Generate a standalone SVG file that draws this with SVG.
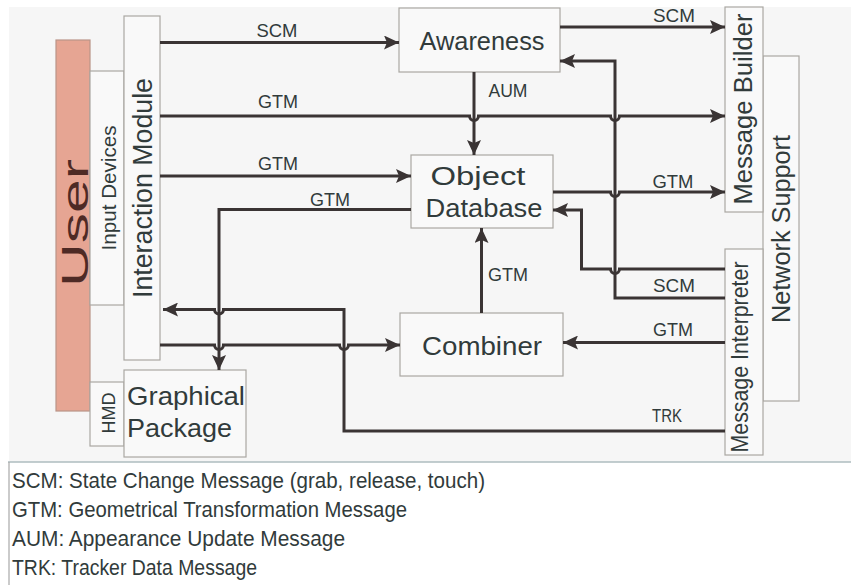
<svg xmlns="http://www.w3.org/2000/svg" width="851" height="585" viewBox="0 0 851 585">
<defs>
<style>
text{font-family:"Liberation Sans",Arial,sans-serif;fill:#313b3b}
.box{fill:#f9f9f9;stroke:#aaa7a2;stroke-width:1.2}
.user{fill:#e6a593;stroke:#b99488;stroke-width:1.2}
.c{fill:none;stroke:#3a3434;stroke-width:3}
.a{marker-end:url(#arr)}
.lbl{font-size:19px}
.bt{font-size:25.5px}
</style>
<marker id="arr" viewBox="0 0 15 14" refX="15" refY="7" markerWidth="15" markerHeight="14" markerUnits="userSpaceOnUse" orient="auto">
<path d="M0,0 L15,7 L0,14 L3,7 z" fill="#3a3434"/>
</marker>
</defs>
<rect x="0" y="0" width="851" height="585" fill="#ffffff"/>
<rect x="9" y="7" width="842" height="455" fill="#f6f6f6"/>
<line x1="8" y1="462" x2="851" y2="462" stroke="#aebcbf" stroke-width="1.5"/>
<line x1="9" y1="462" x2="9" y2="585" stroke="#a8a8a8" stroke-width="1.2"/>

<g id="user">
<rect class="user" x="56" y="40" width="34" height="371"/>
<text transform="translate(88,223) rotate(-90)" text-anchor="middle" font-size="36" textLength="128" lengthAdjust="spacingAndGlyphs" style="fill:#4e2a25">User</text>
</g>
<g id="input-devices">
<rect class="box" x="90" y="71" width="34" height="234"/>
<text transform="translate(116,188) rotate(-90)" text-anchor="middle" font-size="20.5" textLength="125" lengthAdjust="spacingAndGlyphs">Input Devices</text>
</g>
<g id="interaction-module">
<rect class="box" x="124" y="16" width="36" height="344"/>
<text transform="translate(152,188) rotate(-90)" text-anchor="middle" font-size="27" textLength="220" lengthAdjust="spacingAndGlyphs">Interaction Module</text>
</g>
<g id="hmd">
<rect class="box" x="90" y="382" width="34" height="64"/>
<text transform="translate(115,413) rotate(-90)" text-anchor="middle" font-size="18" textLength="41" lengthAdjust="spacingAndGlyphs">HMD</text>
</g>
<g id="graphical-package">
<rect class="box" x="124" y="370" width="122" height="87"/>
<text class="bt" x="127" y="405" textLength="118" lengthAdjust="spacingAndGlyphs">Graphical</text>
<text class="bt" x="127" y="437" textLength="105" lengthAdjust="spacingAndGlyphs">Package</text>
</g>
<g id="awareness">
<rect class="box" x="399" y="8" width="161" height="64"/>
<text class="bt" x="482" y="50" text-anchor="middle" textLength="125" lengthAdjust="spacingAndGlyphs">Awareness</text>
</g>
<g id="object-database">
<rect class="box" x="411" y="155" width="142" height="73"/>
<text class="bt" x="478" y="185" text-anchor="middle" textLength="95" lengthAdjust="spacingAndGlyphs">Object</text>
<text class="bt" x="484" y="217" text-anchor="middle" textLength="117" lengthAdjust="spacingAndGlyphs">Database</text>
</g>
<g id="combiner">
<rect class="box" x="400" y="313" width="163" height="63"/>
<text class="bt" x="482" y="355" text-anchor="middle" textLength="120" lengthAdjust="spacingAndGlyphs">Combiner</text>
</g>
<g id="network-support">
<rect class="box" x="763" y="56" width="36" height="345"/>
<text transform="translate(790,229) rotate(-90)" text-anchor="middle" font-size="25" textLength="188" lengthAdjust="spacingAndGlyphs">Network Support</text>
</g>
<g id="message-builder">
<rect class="box" x="725" y="7" width="38" height="205"/>
<text transform="translate(752,109) rotate(-90)" text-anchor="middle" font-size="25" textLength="191" lengthAdjust="spacingAndGlyphs">Message Builder</text>
</g>
<g id="message-interpreter">
<rect class="box" x="725" y="249" width="38" height="206"/>
<text transform="translate(748,357) rotate(-90)" text-anchor="middle" font-size="23" textLength="191" lengthAdjust="spacingAndGlyphs">Message Interpreter</text>
</g>

<g id="connectors">
<path class="c a" d="M160,42.5 H399"/>
<path class="c a" d="M160,116 H469.5 A4.5,4.5 0 0 0 478.5,116 H610.5 A4.5,4.5 0 0 0 619.5,116 H725"/>
<path class="c a" d="M160,176 H411"/>
<path class="c a" d="M411,209.5 H219 V370"/>
<path class="c a" d="M474,72 V155"/>
<path class="c a" d="M560,27 H725"/>
<path class="c a" d="M553,192 H610.5 A4.5,4.5 0 0 0 619.5,192 H725"/>
<path class="c a" d="M725,298 H615 V61 H560"/>
<path class="c a" d="M725,269 H619.5 A4.5,4.5 0 0 1 610.5,269 H581.5 V210 H553"/>
<path class="c a" d="M725,342.5 H563"/>
<path class="c a" d="M481.5,313 V228"/>
<path class="c a" d="M160,345 H214.5 A4.5,4.5 0 0 0 223.5,345 H339.5 A4.5,4.5 0 0 0 348.5,345 H400"/>
<path class="c a" d="M725,431 H344 V309.5 H223.5 A4.5,4.5 0 0 1 214.5,309.5 H163"/>
<text class="lbl" x="277" y="37" text-anchor="middle" textLength="41" lengthAdjust="spacingAndGlyphs">SCM</text>
<text class="lbl" x="278" y="108" text-anchor="middle" textLength="40" lengthAdjust="spacingAndGlyphs">GTM</text>
<text class="lbl" x="278" y="170" text-anchor="middle" textLength="40" lengthAdjust="spacingAndGlyphs">GTM</text>
<text class="lbl" x="330" y="206" text-anchor="middle" textLength="40" lengthAdjust="spacingAndGlyphs">GTM</text>
<text class="lbl" x="508" y="97" text-anchor="middle" textLength="39" lengthAdjust="spacingAndGlyphs">AUM</text>
<text class="lbl" x="674" y="22" text-anchor="middle" textLength="42" lengthAdjust="spacingAndGlyphs">SCM</text>
<text class="lbl" x="673" y="188" text-anchor="middle" textLength="41" lengthAdjust="spacingAndGlyphs">GTM</text>
<text class="lbl" x="508" y="281" text-anchor="middle" textLength="40" lengthAdjust="spacingAndGlyphs">GTM</text>
<text class="lbl" x="674" y="292" text-anchor="middle" textLength="42" lengthAdjust="spacingAndGlyphs">SCM</text>
<text class="lbl" x="673" y="336" text-anchor="middle" textLength="40" lengthAdjust="spacingAndGlyphs">GTM</text>
<text class="lbl" x="667" y="422" text-anchor="middle" textLength="30" lengthAdjust="spacingAndGlyphs">TRK</text>
</g>

<g id="legend" font-size="22">
<text x="12" y="488" textLength="473" lengthAdjust="spacingAndGlyphs">SCM: State Change Message (grab, release, touch)</text>
<text x="12" y="517" textLength="395" lengthAdjust="spacingAndGlyphs">GTM: Geometrical Transformation Message</text>
<text x="12" y="546" textLength="333" lengthAdjust="spacingAndGlyphs">AUM: Appearance Update Message</text>
<text x="12" y="575" textLength="245" lengthAdjust="spacingAndGlyphs">TRK: Tracker Data Message</text>
</g>
</svg>
